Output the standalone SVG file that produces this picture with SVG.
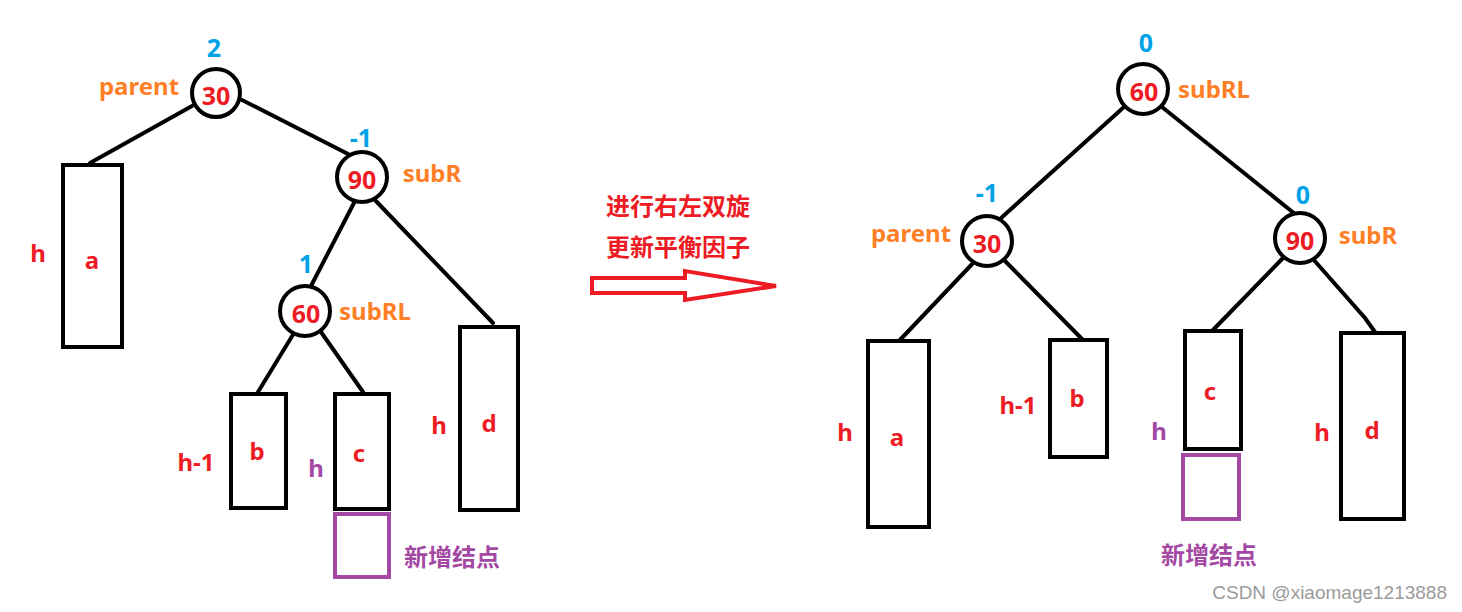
<svg xmlns="http://www.w3.org/2000/svg" width="1462" height="612" viewBox="0 0 1462 612">
<style>
  .t{font-family:"Noto Sans","Noto Sans CJK SC",sans-serif;font-weight:bold;text-anchor:middle;dominant-baseline:central}
  .red{fill:#ED1C24}
  .org{fill:#FF7F27}
  .blu{fill:#00A2E8}
  .pur{fill:#A349A4}
  .cn{font-family:"Noto Sans CJK SC",sans-serif;font-weight:bold;font-size:24px;text-anchor:middle;dominant-baseline:central}
  .n{fill:#fff;stroke:#000;stroke-width:4}
  .box{fill:#fff;stroke:#000;stroke-width:4}
  .newbox{fill:none;stroke:#A349A4;stroke-width:4}
  .e{stroke:#000;stroke-width:4;fill:none;stroke-linecap:round}
  .f22{font-size:24px}
  .f24{font-size:25px}
</style>
<rect width="1462" height="612" fill="#fff"/>
<g id="connectors">
  <line class="e" x1="192" y1="106" x2="90" y2="163"/>
  <line class="e" x1="242" y1="100" x2="352" y2="156"/>
  <line class="e" x1="355" y1="201" x2="311" y2="286"/>
  <line class="e" x1="374" y1="199" x2="493" y2="323"/>
  <line class="e" x1="294" y1="333" x2="258" y2="392"/>
  <line class="e" x1="321" y1="332" x2="363" y2="392"/>
  <line class="e" x1="1124" y1="107" x2="1000" y2="219"/>
  <line class="e" x1="1162" y1="107" x2="1295" y2="214"/>
  <line class="e" x1="975" y1="261" x2="899" y2="341"/>
  <line class="e" x1="1003" y1="259" x2="1082" y2="339"/>
  <line class="e" x1="1283" y1="258" x2="1212" y2="331"/>
  <polyline class="e" points="1313,259 1365,318 1375,332"/>
</g>
<g id="left-tree">
  <g id="L-n30">
    <circle class="n" cx="216" cy="93" r="24"/>
    <text class="t red f24" x="216" y="95">30</text>
    <text class="t blu f24" x="214" y="47">2</text>
    <text class="t org f22" x="139" y="85">parent</text>
  </g>
  <g id="L-n90">
    <circle class="n" cx="362" cy="177" r="25"/>
    <text class="t red f24" x="362" y="179">90</text>
    <text class="t blu f24" x="361" y="137">-1</text>
    <text class="t org f22" x="432" y="172">subR</text>
  </g>
  <g id="L-n60">
    <circle class="n" cx="305" cy="311" r="25"/>
    <text class="t red f24" x="306" y="313">60</text>
    <text class="t blu f24" x="306" y="263">1</text>
    <text class="t org f22" x="375" y="310">subRL</text>
  </g>
  <g id="L-a">
    <rect class="box" x="63" y="165" width="59" height="182"/>
    <text class="t red f22" x="92" y="259">a</text>
    <text class="t red f22" x="38" y="252">h</text>
  </g>
  <g id="L-b">
    <rect class="box" x="231" y="394" width="55" height="114"/>
    <text class="t red f22" x="257" y="450">b</text>
    <text class="t red f22" x="196" y="461">h-1</text>
  </g>
  <g id="L-c">
    <rect class="box" x="335" y="394" width="54" height="115"/>
    <text class="t red f22" x="359" y="452">c</text>
    <text class="t pur f22" x="316" y="467">h</text>
  </g>
  <g id="L-new">
    <rect class="newbox" x="335" y="514" width="54" height="63"/>
    <text class="cn pur" x="452" y="555">新增结点</text>
  </g>
  <g id="L-d">
    <rect class="box" x="460" y="327" width="58" height="183"/>
    <text class="t red f22" x="489" y="422">d</text>
    <text class="t red f22" x="439" y="424">h</text>
  </g>
</g>
<g id="middle">
  <text class="cn red" x="678" y="204">进行右左双旋</text>
  <text class="cn red" x="678" y="245">更新平衡因子</text>
  <polygon points="592,278 685,278 685,271 776,286 685,300 685,293 592,293" fill="#fff" stroke="#ED1C24" stroke-width="4" stroke-linejoin="miter"/>
</g>
<g id="right-tree">
  <g id="R-n60">
    <circle class="n" cx="1143" cy="89" r="25"/>
    <text class="t red f24" x="1144" y="91">60</text>
    <text class="t blu f24" x="1146" y="42">0</text>
    <text class="t org f22" x="1214" y="88">subRL</text>
  </g>
  <g id="R-n30">
    <circle class="n" cx="987" cy="241" r="25"/>
    <text class="t red f24" x="987" y="243">30</text>
    <text class="t blu f24" x="987" y="192">-1</text>
    <text class="t org f22" x="911" y="232">parent</text>
  </g>
  <g id="R-n90">
    <circle class="n" cx="1300" cy="238" r="25"/>
    <text class="t red f24" x="1300" y="240">90</text>
    <text class="t blu f24" x="1303" y="194">0</text>
    <text class="t org f22" x="1368" y="234">subR</text>
  </g>
  <g id="R-a">
    <rect class="box" x="868" y="341" width="61" height="186"/>
    <text class="t red f22" x="897" y="436">a</text>
    <text class="t red f22" x="845" y="431">h</text>
  </g>
  <g id="R-b">
    <rect class="box" x="1050" y="340" width="57" height="117"/>
    <text class="t red f22" x="1077" y="397">b</text>
    <text class="t red f22" x="1018" y="404">h-1</text>
  </g>
  <g id="R-c">
    <rect class="box" x="1185" y="331" width="56" height="118"/>
    <text class="t red f22" x="1210" y="390">c</text>
    <text class="t pur f22" x="1159" y="430">h</text>
  </g>
  <g id="R-new">
    <rect class="newbox" x="1183" y="455" width="56" height="64"/>
    <text class="cn pur" x="1209" y="553">新增结点</text>
  </g>
  <g id="R-d">
    <rect class="box" x="1341" y="333" width="63" height="186"/>
    <text class="t red f22" x="1372" y="429">d</text>
    <text class="t red f22" x="1322" y="431">h</text>
  </g>
</g>
<text x="1447" y="599" font-family="Liberation Sans, Arial, sans-serif" font-size="19" fill="#9a9a9a" text-anchor="end">CSDN @xiaomage1213888</text>
</svg>
